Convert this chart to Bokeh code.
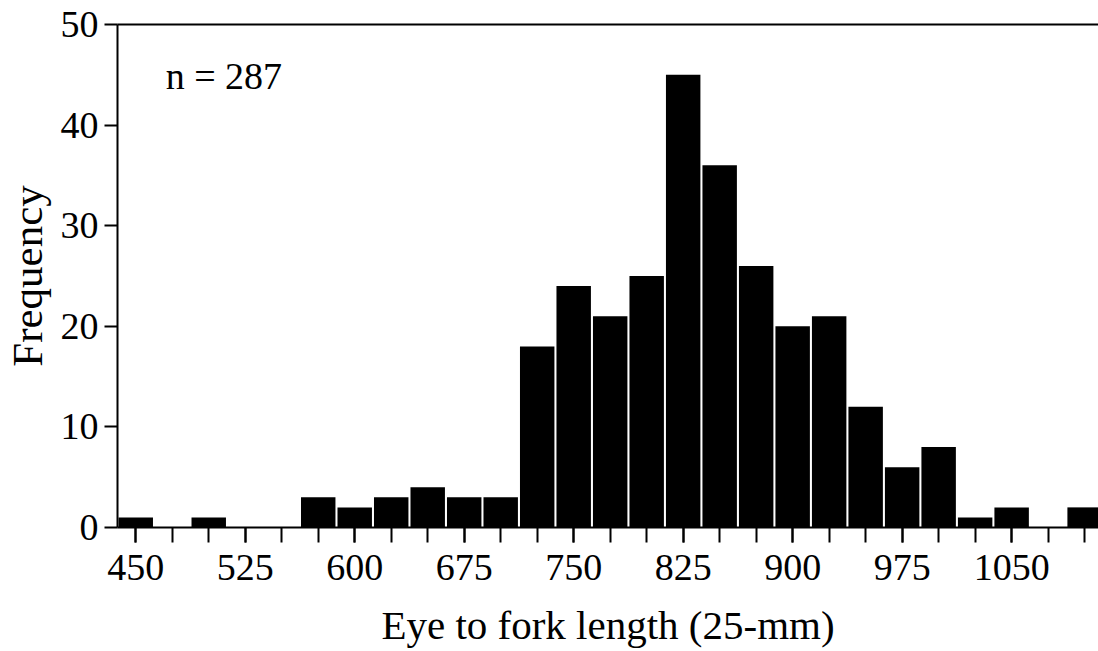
from bokeh.plotting import figure
from bokeh.models import ColumnDataSource, LinearAxis, FixedTicker, Label, Range1d
from bokeh.embed import file_html
from bokeh.resources import INLINE

# Data: 25-mm bins (centres) and counts
bin_centers = [450, 475, 500, 525, 550, 575, 600, 625, 650, 675, 700, 725, 750, 775,
               800, 825, 850, 875, 900, 925, 950, 975, 1000, 1025, 1050, 1075, 1100]
counts = [1, 0, 1, 0, 0, 3, 2, 3, 4, 3, 3, 18, 24, 21,
          25, 45, 36, 26, 20, 21, 12, 6, 8, 1, 2, 0, 2]
x_major_ticks = [450, 525, 600, 675, 750, 825, 900, 975, 1050]
x_minor_ticks = list(range(450, 1101, 25))
y_ticks = [0, 10, 20, 30, 40, 50]
annotation = "n = 287"
x_label = "Eye to fork length (25-mm)"
y_label = "Frequency"

FONT = "Liberation Serif"

p = figure(width=1098, height=651, output_backend="svg", toolbar_location=None,
           x_range=Range1d(437.5, 1109.5), y_range=Range1d(0, 50),
           min_border_left=116, min_border_right=0, min_border_top=24, min_border_bottom=124)
p.outline_line_color = None
p.xgrid.visible = False
p.ygrid.visible = False
p.background_fill_color = "white"
p.border_fill_color = "white"

src = ColumnDataSource(dict(x=bin_centers, top=counts))
p.vbar(x="x", top="top", bottom=0, width=23.6, source=src,
       fill_color="black", line_color=None)

# x axis
xa = p.xaxis[0]
xa.ticker = FixedTicker(ticks=x_major_ticks, minor_ticks=x_minor_ticks)
xa.axis_line_width = 2
xa.axis_line_color = "black"
xa.major_tick_line_width = 2
xa.minor_tick_line_width = 2
xa.major_tick_in = 0
xa.major_tick_out = 15
xa.minor_tick_in = 0
xa.minor_tick_out = 15
xa.major_label_text_font = FONT
xa.major_label_text_font_size = "38px"
xa.major_label_text_color = "black"
xa.major_label_standoff = 12
xa.axis_label = x_label
xa.axis_label_text_font = FONT
xa.axis_label_text_font_size = "41px"
xa.axis_label_text_font_style = "normal"
xa.axis_label_text_color = "black"
xa.axis_label_standoff = 19

# y axis
ya = p.yaxis[0]
ya.ticker = FixedTicker(ticks=y_ticks)
ya.axis_line_width = 2
ya.major_tick_line_width = 2
ya.major_tick_in = 0
ya.major_tick_out = 13
ya.minor_tick_line_color = None
ya.major_label_text_font = FONT
ya.major_label_text_font_size = "38px"
ya.major_label_text_color = "black"
ya.major_label_standoff = 6
ya.axis_label = y_label
ya.axis_label_text_font = FONT
ya.axis_label_text_font_size = "43px"
ya.axis_label_text_font_style = "normal"
ya.axis_label_text_color = "black"
ya.axis_label_standoff = 7

# top spine
top_axis = LinearAxis(ticker=FixedTicker(ticks=[]), axis_line_width=2,
                      major_tick_line_color=None, minor_tick_line_color=None,
                      major_label_text_font_size="0px")
p.add_layout(top_axis, "above")

p.add_layout(Label(x=470.5, y=44.9, text=annotation, text_font=FONT,
                   text_font_size="38px", text_color="black",
                   text_baseline="alphabetic", text_align="left"))

open("out.html", "w").write(file_html(p, INLINE))
